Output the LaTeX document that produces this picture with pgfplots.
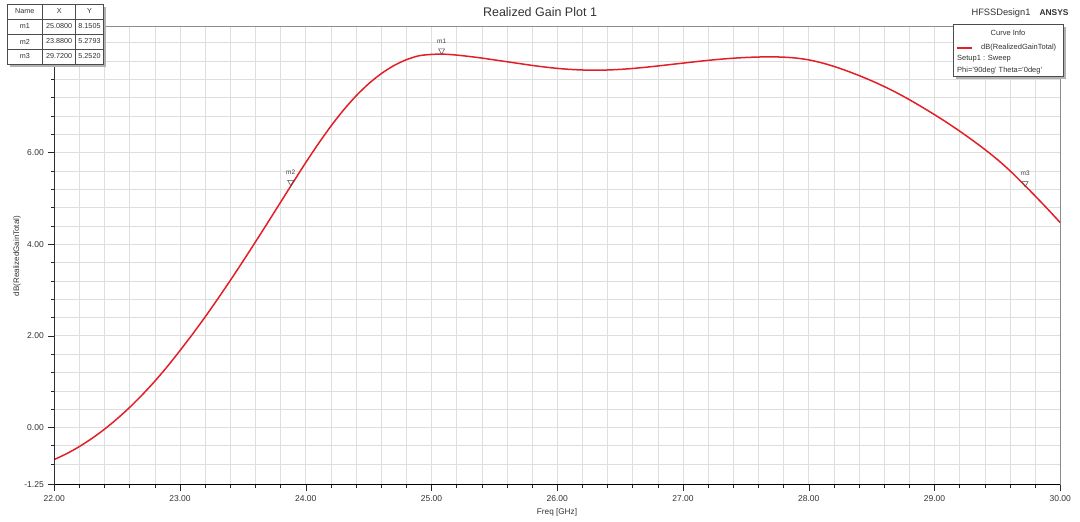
\documentclass[border=0pt]{standalone}
\usepackage{fontspec}
\setmainfont{Liberation Sans}
\usepackage{pgfplots}
\pgfplotsset{compat=1.18}
\definecolor{hfssred}{RGB}{226,30,38}
\definecolor{gridc}{RGB}{222,222,222}
\definecolor{txt}{RGB}{50,50,50}
\pgfplotstableread{
f g
22.0 -0.700
22.1 -0.570
22.2 -0.416
22.3 -0.238
22.4 -0.036
22.5 0.190
22.6 0.440
22.7 0.714
22.8 1.012
22.9 1.334
23.0 1.680
23.1 2.040
23.2 2.415
23.3 2.808
23.4 3.212
23.5 3.628
23.6 4.052
23.7 4.484
23.8 4.920
23.9 5.355
24.0 5.785
24.1 6.195
24.2 6.580
24.3 6.930
24.4 7.240
24.5 7.505
24.6 7.725
24.7 7.900
24.8 8.030
24.9 8.115
25.0 8.145
25.1 8.150
25.2 8.130
25.3 8.100
25.4 8.065
25.5 8.025
25.6 7.985
25.7 7.945
25.8 7.905
25.9 7.870
26.0 7.840
26.1 7.818
26.2 7.805
26.3 7.800
26.4 7.805
26.5 7.818
26.6 7.838
26.7 7.864
26.8 7.893
26.9 7.924
27.0 7.955
27.1 7.986
27.2 8.015
27.3 8.041
27.4 8.062
27.5 8.078
27.6 8.088
27.7 8.091
27.8 8.085
27.9 8.065
28.0 8.025
28.1 7.963
28.2 7.883
28.3 7.788
28.4 7.683
28.5 7.568
28.6 7.443
28.7 7.306
28.8 7.156
28.9 6.996
29.0 6.829
29.1 6.654
29.2 6.469
29.3 6.274
29.4 6.069
29.5 5.849
29.6 5.604
29.7 5.334
29.8 5.054
29.9 4.767
30.0 4.470
}\gaintable
\begin{document}
\begin{tikzpicture}[x=1pt,y=1pt]
\path[use as bounding box] (0,0) rectangle (1080,522);
\begin{axis}[
  at={(54.3pt,37.3pt)}, anchor=south west, scale only axis,
  width=1006pt, height=458pt,
  xmin=22, xmax=30, ymin=-1.25, ymax=8.75,
  xtick={22,23,24,25,26,27,28,29,30},
  ytick={-1.25,0,2,4,6,8},
  yticklabels={-1.25,0.00,2.00,4.00,6.00,},
  minor x tick num=4,
  minor ytick={-0.8,-0.4,0.4,0.8,1.2,1.6,2.4,2.8,3.2,3.6,4.4,4.8,5.2,5.6,6.4,6.8,7.2,7.6,8.4},
  grid=both,
  major grid style={gridc, line width=0.8pt},
  minor grid style={gridc, line width=0.6pt},
  tick align=outside, xtick pos=bottom, ytick pos=left,
  major tick length=6pt, minor tick length=3.5pt,
  tick style={black!85, line width=0.6pt},
  axis line style={black!45, line width=0.8pt},
  xticklabel style={font=\fontsize{8.5}{10}\selectfont, text=txt, yshift=-1pt},
  yticklabel style={font=\fontsize{8.5}{10}\selectfont, text=txt, xshift=-1pt},
  /pgf/number format/.cd, fixed, fixed zerofill, precision=2, assume math mode=true,
]
\addplot[hfssred, line width=1.5pt, smooth] table[x=f, y=g] {\gaintable};
\addplot[only marks, mark=triangle, mark size=3.5pt,
  mark options={yshift=3.5pt, rotate=180, draw=black!70, fill=white, line width=0.5pt},
  nodes near coords, point meta=explicit symbolic,
  every node near coord/.append style={font=\fontsize{6.5}{7}\selectfont, text=black!75, anchor=south, yshift=4pt}]
  coordinates {(25.08,8.1505)[m1] (23.88,5.2793)[m2] (29.72,5.2520)[m3]};
\draw[black, line width=0.9pt] (rel axis cs:0,1) -- (rel axis cs:0,0) -- (rel axis cs:1,0);
\end{axis}
% title and header texts
\node[font=\fontsize{12.5}{14}\selectfont, text=txt] at (540,510) {Realized Gain Plot 1};
\node[font=\fontsize{9.3}{11}\selectfont, text=txt] at (1001,508.7) {HFSSDesign1};
\node[font=\bfseries\fontsize{8.4}{10}\selectfont, text=txt] at (1054,509.5) {ANSYS};
% axis labels
\node[font=\fontsize{8.2}{10}\selectfont, text=txt] at (557,10) {Freq [GHz]};
\node[font=\fontsize{8}{10}\selectfont, text=txt, rotate=90] at (17,266) {dB(RealizedGainTotal)};
% marker table
\fill[black!30] (10,455) rectangle (106.3,515);
\fill[white] (7,458) rectangle (103.3,518);
\draw[black!70, line width=0.8pt] (7,458) rectangle (103.3,518);
\draw[black!70, line width=0.6pt] (42.7,458) -- (42.7,518) (75.7,458) -- (75.7,518)
  (7,503) -- (103.3,503) (7,488) -- (103.3,488) (7,473) -- (103.3,473);
\begin{scope}[every node/.style={font=\fontsize{7.2}{8}\selectfont, text=txt}]
\node at (24.85,510.5) {Name}; \node at (59.2,510.5) {X}; \node at (89.5,510.5) {Y};
\node at (24.85,495.5) {m1}; \node at (59.2,495.5) {25.0800}; \node at (89.5,495.5) {8.1505};
\node at (24.85,480.5) {m2}; \node at (59.2,480.5) {23.8800}; \node at (89.5,480.5) {5.2793};
\node at (24.85,465.5) {m3}; \node at (59.2,465.5) {29.7200}; \node at (89.5,465.5) {5.2520};
\end{scope}
% legend box
\fill[black!30] (956,443) rectangle (1066,495);
\fill[white] (953,446) rectangle (1063,498);
\draw[black!70, line width=0.8pt] (953,446) rectangle (1063,498);
\fill[hfssred] (956.7,473.4) rectangle (972,475.2);
\begin{scope}[every node/.style={font=\fontsize{7.5}{9}\selectfont, text=txt}]
\node at (1008,489.3) {Curve Info};
\node[anchor=west, inner sep=0pt] at (981,474.3) {dB(RealizedGainTotal)};
\node[anchor=west, inner sep=0pt] at (957,463) {Setup1 : Sweep};
\node[anchor=west, inner sep=0pt] at (957,451) {Phi='90deg' Theta='0deg'};
\end{scope}
\end{tikzpicture}
\end{document}
